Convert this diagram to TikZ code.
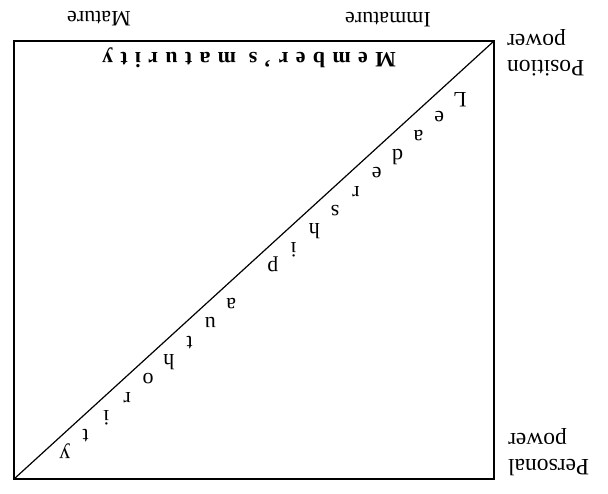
\documentclass[tikz,border=0pt]{standalone}
\usepackage{fontspec}
\setmainfont{Liberation Serif}
\begin{document}
\begin{tikzpicture}[x=1pt,y=1pt,
  lbl/.style={font=\fontsize{22}{25}\selectfont, inner sep=0pt},
  twoline/.style={font=\fontsize{23.5}{26}\selectfont, inner sep=0pt, align=right, anchor=north east},
  ltr/.style={font=\fontsize{22}{25}\selectfont, inner sep=0pt, anchor=base},
  frame/.style={line width=1.6pt},
  diag/.style={line width=1.2pt}]
\useasboundingbox (0,0) rectangle (608,493);
% the whole figure is printed upside down
\begin{scope}[rotate around={180:(304,246.5)}, transform shape]
  \coordinate (ll) at (114,41);
  \coordinate (ur) at (594,479);
  \draw[frame] (ll) rectangle (ur);
  \draw[diag] (ll) -- (ur);
  \node[lbl, anchor=base] (immature) at (220,13) {Immature};
  \node[lbl, anchor=base] (mature) at (509,12) {Mature};
  \node[font=\fontsize{22}{25}\selectfont\bfseries\addfontfeature{LetterSpace=33}, inner sep=0pt, anchor=base] (members) at (359,53) {Member's maturity};
  \node[twoline] (position) at (101,76) {Position\\power};
  \node[twoline] (personal) at (100,476) {Personal\\power};
  \foreach \c/\i in {L/0,e/1,a/2,d/3,e/4,r/5,s/6,h/7,i/8,p/9,a/11,u/12,t/13,h/14,o/15,r/16,i/17,t/18,y/19}
    \node[ltr] (lead\i) at ({148+20.8*\i},{93+18.7*\i}) {\c};
\end{scope}
\end{tikzpicture}
\end{document}
